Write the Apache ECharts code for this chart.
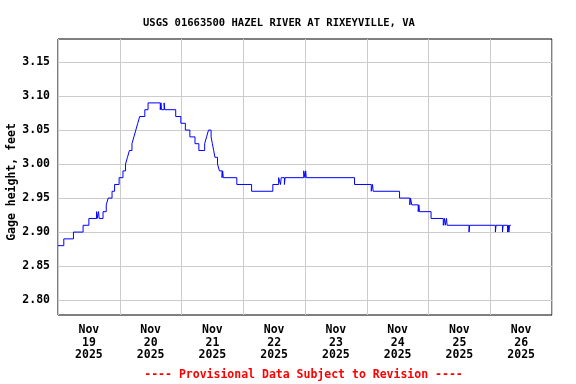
<!DOCTYPE html>
<html>
<head>
<meta charset="utf-8">
<script src="https://cdn.jsdelivr.net/npm/echarts@6/dist/echarts.min.js"></script>
<style>
html,body{margin:0;padding:0;background:#fff;}
#chart{width:576px;height:384px;}
</style>
</head>
<body>
<div id="chart"></div>
<script>
// Hours since Nov 19 2025 00:00 and gage height (feet)
var hours = [0, 2.25, 6, 9.75, 12, 15, 15.25, 15.75, 16, 17.5, 18.75, 19.5, 21, 22, 23.75, 25.25, 26.25, 27, 27.75, 28.75, 29.5, 30.25, 31, 31.75, 33.75, 35, 39.75, 40, 40.25, 41.25, 41.5, 45.75, 47.75, 49.5, 51.25, 53.25, 54.75, 57, 57.75, 58.5, 59.5, 60, 60.5, 61, 62, 62.75, 63.75, 64, 64.25, 69.5, 75.25, 83.5, 85.75, 86.5, 86.75, 88, 88.25, 95.5, 96, 96.25, 96.5, 115.25, 121.75, 122.25, 122.5, 132.75, 136.75, 137, 137.5, 140, 140.25, 140.5, 145, 149.75, 150.25, 150.5, 151, 151.25, 159.75, 160, 170, 170.25, 172.75, 173, 174.75, 175, 175.25, 175.5, 176];
var gage = [2.88, 2.89, 2.90, 2.91, 2.92, 2.93, 2.92, 2.93, 2.92, 2.93, 2.94, 2.95, 2.96, 2.97, 2.98, 2.99, 3.00, 3.01, 3.02, 3.03, 3.04, 3.05, 3.06, 3.07, 3.08, 3.09, 3.08, 3.09, 3.08, 3.09, 3.08, 3.07, 3.06, 3.05, 3.04, 3.03, 3.02, 3.03, 3.04, 3.05, 3.04, 3.03, 3.02, 3.01, 3.00, 2.99, 2.98, 2.99, 2.98, 2.97, 2.96, 2.97, 2.98, 2.97, 2.98, 2.97, 2.98, 2.99, 2.98, 2.99, 2.98, 2.97, 2.96, 2.97, 2.96, 2.95, 2.94, 2.95, 2.94, 2.93, 2.94, 2.93, 2.92, 2.91, 2.92, 2.91, 2.92, 2.91, 2.90, 2.91, 2.90, 2.91, 2.90, 2.91, 2.90, 2.91, 2.90, 2.91, 2.91];
var dayLabels = ['Nov\n19\n2025', 'Nov\n20\n2025', 'Nov\n21\n2025', 'Nov\n22\n2025', 'Nov\n23\n2025', 'Nov\n24\n2025', 'Nov\n25\n2025', 'Nov\n26\n2025'];
var dayLabelHours = [12, 36, 60, 84, 108, 132, 156, 180];
var yTicks = [2.80, 2.85, 2.90, 2.95, 3.00, 3.05, 3.10, 3.15];
var titleText = 'USGS 01663500 HAZEL RIVER AT RIXEYVILLE, VA';
var yName = 'Gage height, feet';
var footer = '---- Provisional Data Subject to Revision ----';

var FONT = '"DejaVu Sans Mono", monospace';
var data = hours.map(function (h, i) { return [h, gage[i]]; });

var chart = echarts.init(document.getElementById('chart'), null, {renderer: 'canvas'});
chart.setOption({
  animation: false,
  backgroundColor: '#ffffff',
  title: {
    text: titleText,
    left: 138,
    top: 13,
    textStyle: {fontFamily: FONT, fontWeight: 'bold', fontSize: 10.5, color: '#000'}
  },
  grid: {
    left: 58, right: 24, top: 39, bottom: 69,
    show: true, borderColor: '#000', borderWidth: 1, backgroundColor: 'transparent'
  },
  xAxis: {
    type: 'value',
    min: 0, max: 192, interval: 24,
    axisLine: {show: false},
    axisTick: {show: false},
    splitLine: {show: true, lineStyle: {color: '#cccccc', width: 1}},
    axisLabel: {
      customValues: dayLabelHours,
      formatter: function (v) { return dayLabels[dayLabelHours.indexOf(v)] || ''; },
      fontFamily: FONT, fontWeight: 'bold', fontSize: 11.5, color: '#000',
      lineHeight: 12.5, margin: 9, align: 'center'
    }
  },
  yAxis: {
    type: 'value',
    min: 2.778, max: 3.184,
    axisLine: {show: false},
    axisTick: {show: false, customValues: yTicks},
    splitLine: {show: true, lineStyle: {color: '#cccccc', width: 1}},
    axisLabel: {
      customValues: yTicks,
      formatter: function (v) { return v.toFixed(2); },
      fontFamily: FONT, fontWeight: 'bold', fontSize: 11.5, color: '#000', margin: 8
    }
  },
  graphic: [
    {
      type: 'text', x: 12, y: 182, rotation: Math.PI / 2,
      style: {text: yName, fontFamily: FONT, fontWeight: 'bold', fontSize: 11.5, fill: '#000',
              textAlign: 'center', textVerticalAlign: 'middle'}
    },
    {
      type: 'text', x: 303.5, y: 375,
      style: {text: footer, fontFamily: FONT, fontWeight: 'bold', fontSize: 11.5, fill: '#ff0000',
              textAlign: 'center', textVerticalAlign: 'middle'}
    }
  ],
  series: [{
    type: 'line',
    data: data,
    step: 'end',
    showSymbol: false,
    symbol: 'none',
    lineStyle: {color: '#0000ff', width: 1},
    clip: true
  }]
});
</script>
</body>
</html>
